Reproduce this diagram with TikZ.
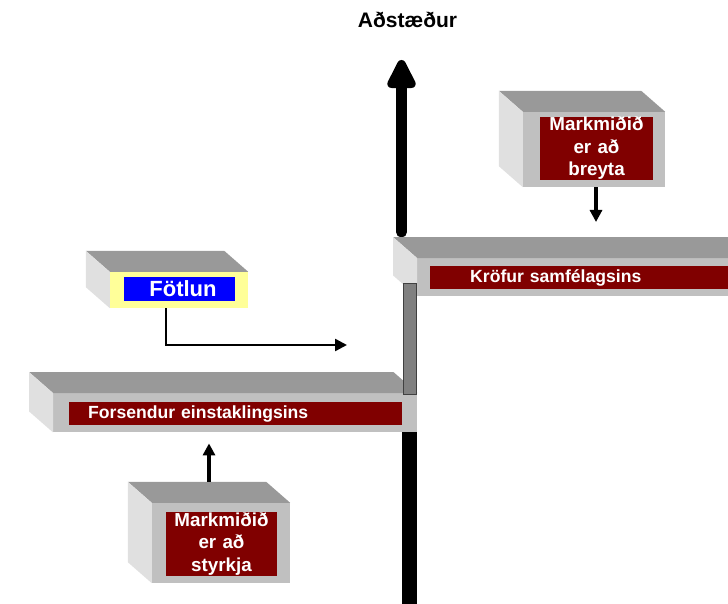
\documentclass[tikz,border=0pt]{standalone}
\usepackage{fontspec}
\setmainfont{Liberation Sans}
\usetikzlibrary{positioning,arrows.meta,calc}
\definecolor{bandred}{RGB}{128,0,0}
\definecolor{facegray}{RGB}{192,192,192}
\definecolor{topgray}{RGB}{153,153,153}
\definecolor{sidegray}{RGB}{224,224,224}
\definecolor{paleyel}{RGB}{255,255,153}

% top and side faces behind a front node
\newcommand{\slabfaces}[1]{%
  \fill[topface] (#1.north west) -- ++(-24,-21) -- ([shift={(-24,-21)}]#1.north east)
     -- (#1.north east) -- cycle;
  \fill[sideface] (#1.north west) -- ++(-24,-21) -- ([shift={(-24,-21)}]#1.south west)
     -- (#1.south west) -- cycle;
  \coordinate (#1-back) at ([shift={(-12,-21)}]#1.north);
}

\begin{document}
\begin{tikzpicture}[
  x=1pt, y=-1pt,
  >={Triangle[length=12pt,width=12pt]},
  front/.style={fill=facegray, inner sep=0pt},
  topface/.style={fill=topgray},
  sideface/.style={fill=sidegray},
  band/.style={fill=bandred, text=white, inner sep=0pt,
               font=\bfseries\fontsize{17.6}{20}\selectfont},
  goalband/.style={band, align=center, text width=111pt, minimum height=64pt,
               font=\bfseries\fontsize{18.8}{22.5}\selectfont},
  link/.style={->, line width=3.5pt},
]
\clip (0,0) rectangle (728,604);

% ---- heading and main axis ----
\node[font=\bfseries\fontsize{21}{24}\selectfont] (title) at (407.5,20) {Aðstæður};
\coordinate (aBot) at (401.5,232);
\coordinate (aTop) at (401.5,60);
\draw[line width=11pt, line cap=round, -{Triangle[length=34pt,width=31pt,round]}]
  (aBot) -- (aTop);

% ---- society demands ----
\node[front, minimum width=335pt, minimum height=38pt, anchor=north west] (krofur) at (417,258) {};
\slabfaces{krofur}
\node[band, anchor=west, minimum height=23pt, text width=282pt, inner xsep=40pt, align=left]
  (krofurtxt) at (430,277.5) {Kröfur samfélagsins};

% ---- individual premises ----
\node[front, minimum width=364pt, minimum height=39pt, anchor=north west] (forsendur) at (53,393) {};
\slabfaces{forsendur}
\node[band, anchor=west, minimum height=23pt, text width=295pt, inner xsep=19pt, align=left]
  (forsendurtxt) at (69,413.5) {Forsendur einstaklingsins};

% ---- axis pieces ----
\node[fill=gray, draw=black!75, line width=0.8pt, inner sep=0pt,
      minimum width=13pt, minimum height=111pt] (stem) at (409.5,338.5) {};
\node[fill=black, inner sep=0pt, minimum width=15pt, minimum height=180pt,
      anchor=north] (base) at (409.5,432) {};

% ---- disability ----
\node[front, fill=paleyel, minimum width=138pt, minimum height=36pt] (fotlun) at (179,290) {};
\slabfaces{fotlun}
\node[band, fill=blue, minimum width=111pt, minimum height=24pt, text depth=0pt,
      font=\bfseries\fontsize{22}{24}\selectfont] (fotluntxt) at (179.5,289)
  {\hspace*{7pt}Fötlun};
\coordinate (fotEnd) at (347,345);
\draw[link, line width=2.5pt] ([xshift=-13pt]fotlun.south) |- (fotEnd);

% ---- goal boxes ----
\node[front, minimum width=138pt, minimum height=80pt] (styrkja) at (221,543) {};
\slabfaces{styrkja}
\node[goalband] (styrkjatxt) at (221.5,544) {Markmiðið\\er að\\styrkja};

\node[front, minimum width=142pt, minimum height=75pt] (breyta) at (594,149.5) {};
\slabfaces{breyta}
\node[goalband, text width=113pt, minimum height=63pt] (breytatxt) at (596.5,148.5) {Markmiðið\\er að\\breyta};

% ---- goal arrows ----
\draw[link] (styrkja-back) -- (styrkja-back |- forsendur.south) [shorten >=11pt];
\draw[link, shorten >=15pt] ([xshift=2pt]breyta.south) -- ([xshift=2pt]breyta.south |- krofur-back);

\end{tikzpicture}
\end{document}
